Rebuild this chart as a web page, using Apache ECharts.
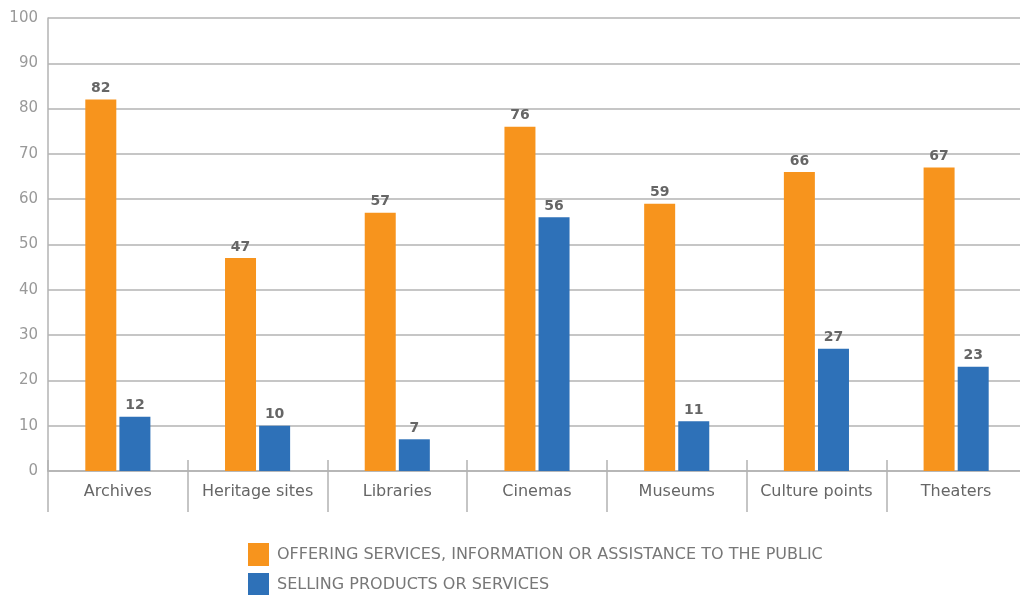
<!DOCTYPE html>
<html><head><meta charset="utf-8">
<script src="https://cdn.jsdelivr.net/npm/echarts@6/dist/echarts.min.js"></script>
<style>html,body{margin:0;padding:0;background:#fff;overflow:hidden}#c{width:1026px;height:595px}</style>
</head><body><div id="c"></div>
<script>
const categories = ['Archives','Heritage sites','Libraries','Cinemas','Museums','Culture points','Theaters'];
const offering = [82,47,57,76,59,66,67];
const selling = [12,10,7,56,11,27,23];
const seriesNames = ['OFFERING SERVICES, INFORMATION OR ASSISTANCE TO THE PUBLIC','SELLING PRODUCTS OR SERVICES'];
const yTicks = [0,10,20,30,40,50,60,70,80,90,100];

const font = 'DejaVu Sans';
const chart = echarts.init(document.getElementById('c'));
const label = {show:true, position:'top', distance:4, color:'#666', fontWeight:'bold', fontSize:14, fontFamily:font};
chart.setOption({
  animation:false,
  grid:{left:48, top:18, right:0, bottom:124, containLabel:false},
  legend:{orient:'vertical', left:248, top:543, height:60, padding:0, itemWidth:21, itemHeight:23, itemGap:7, icon:'rect',
    textStyle:{color:'#777', fontSize:16, fontFamily:font, padding:[0,0,0,3]}, data:seriesNames},
  xAxis:[{type:'category', data:categories, position:'bottom',
    axisLine:{lineStyle:{color:'#b3b3b3', width:1.5}},
    axisTick:{show:true, interval:0, length:41, lineStyle:{color:'#b3b3b3', width:1.5}},
    axisLabel:{interval:0, color:'#666', fontSize:16, fontFamily:font, margin:13}},
   {type:'category', data:categories, position:'bottom',
    axisLine:{show:false}, axisLabel:{show:false},
    axisTick:{show:true, interval:0, inside:true, length:11, lineStyle:{color:'#b3b3b3', width:1.5}}}],
  yAxis:{type:'value', min:yTicks[0], max:yTicks[yTicks.length-1], interval:10,
    axisLine:{show:true, lineStyle:{color:'#b3b3b3', width:1.5}},
    axisTick:{show:false},
    axisLabel:{color:'#999', fontSize:15, fontFamily:font, margin:10},
    splitLine:{lineStyle:{color:'#b3b3b3', width:1.5}}},
  series:[
    {name:seriesNames[0], type:'bar', data:offering, barWidth:31, barGap:'10%', barCategoryGap:'53%',
     itemStyle:{color:'#F7941D'}, label},
    {name:seriesNames[1], type:'bar', data:selling, barWidth:31,
     itemStyle:{color:'#2E71B8'}, label}
  ]
});
</script></body></html>
